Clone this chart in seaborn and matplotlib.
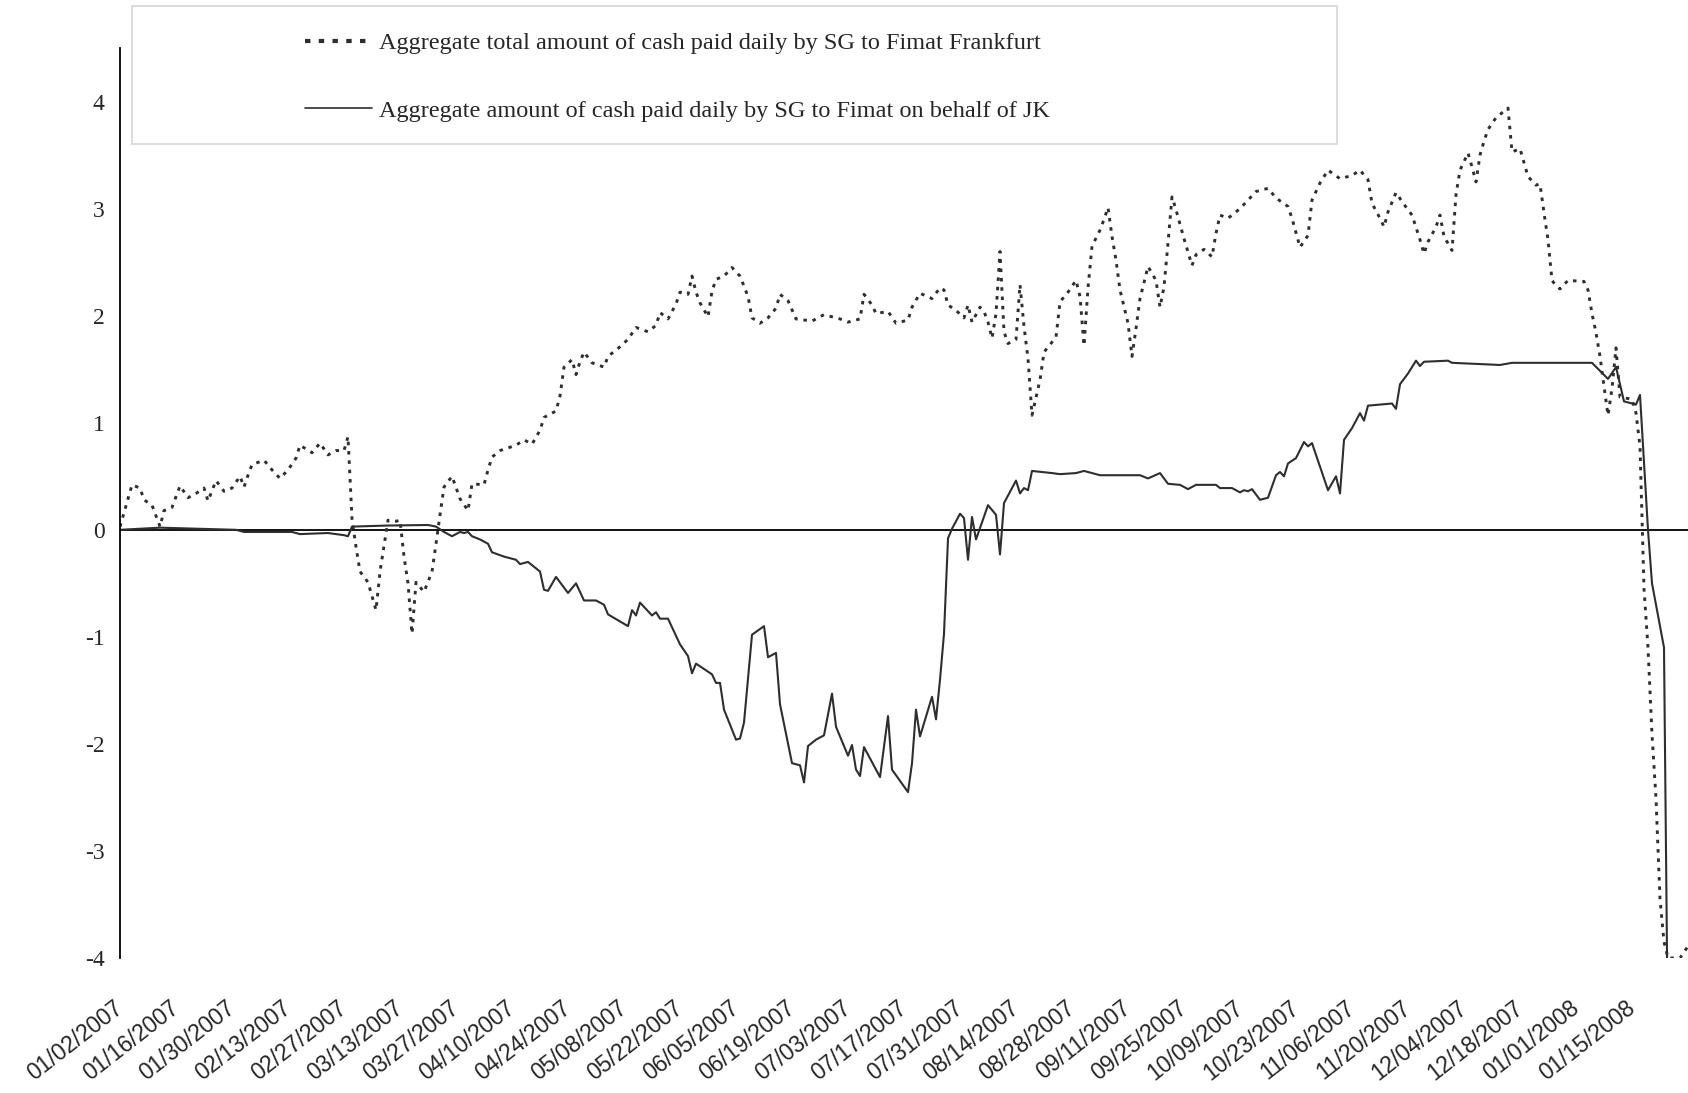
"""Daily cash paid by SG to Fimat: total vs. on behalf of JK (2007-2008)."""

from __future__ import annotations

import matplotlib

matplotlib.use("Agg")

import matplotlib.pyplot as plt
import pandas as pd
import seaborn as sns
from matplotlib.lines import Line2D
from matplotlib.patches import Rectangle

# --- data (values in EUR bn) ------------------------------------------------

TOTAL_LABEL = "Aggregate total amount of cash paid daily by SG to Fimat Frankfurt"
JK_LABEL = "Aggregate amount of cash paid daily by SG to Fimat on behalf of JK"

TOTAL_DATES = [
    "2007-01-02", "2007-01-03", "2007-01-04", "2007-01-05", "2007-01-07", "2007-01-08",
    "2007-01-10", "2007-01-12", "2007-01-13", "2007-01-15", "2007-01-16", "2007-01-17",
    "2007-01-19", "2007-01-21", "2007-01-23", "2007-01-24", "2007-01-26", "2007-01-28",
    "2007-01-30", "2007-02-01", "2007-02-02", "2007-02-03", "2007-02-04", "2007-02-07",
    "2007-02-09", "2007-02-11", "2007-02-13", "2007-02-15", "2007-02-16", "2007-02-19",
    "2007-02-21", "2007-02-23", "2007-02-25", "2007-02-27", "2007-02-28", "2007-03-01",
    "2007-03-02", "2007-03-03", "2007-03-05", "2007-03-07", "2007-03-08", "2007-03-10",
    "2007-03-12", "2007-03-13", "2007-03-14", "2007-03-15", "2007-03-16", "2007-03-17",
    "2007-03-19", "2007-03-21", "2007-03-22", "2007-03-23", "2007-03-24", "2007-03-26",
    "2007-03-28", "2007-03-30", "2007-03-31", "2007-04-03", "2007-04-04", "2007-04-05",
    "2007-04-07", "2007-04-11", "2007-04-13", "2007-04-15", "2007-04-17", "2007-04-18",
    "2007-04-20", "2007-04-21", "2007-04-22", "2007-04-23", "2007-04-25", "2007-04-26",
    "2007-04-27", "2007-04-28", "2007-04-30", "2007-05-03", "2007-05-04", "2007-05-07",
    "2007-05-09", "2007-05-11", "2007-05-14", "2007-05-16", "2007-05-17", "2007-05-19",
    "2007-05-21", "2007-05-22", "2007-05-24", "2007-05-25", "2007-05-26", "2007-05-27",
    "2007-05-29", "2007-05-30", "2007-05-31", "2007-06-02", "2007-06-04", "2007-06-06",
    "2007-06-08", "2007-06-09", "2007-06-11", "2007-06-13", "2007-06-15", "2007-06-16",
    "2007-06-18", "2007-06-20", "2007-06-24", "2007-06-27", "2007-07-01", "2007-07-03",
    "2007-07-06", "2007-07-07", "2007-07-09", "2007-07-10", "2007-07-13", "2007-07-15",
    "2007-07-18", "2007-07-19", "2007-07-21", "2007-07-24", "2007-07-26", "2007-07-27",
    "2007-07-28", "2007-07-30", "2007-08-01", "2007-08-02", "2007-08-03", "2007-08-05",
    "2007-08-06", "2007-08-07", "2007-08-08", "2007-08-09", "2007-08-10", "2007-08-11",
    "2007-08-12", "2007-08-14", "2007-08-15", "2007-08-16", "2007-08-17", "2007-08-18",
    "2007-08-20", "2007-08-21", "2007-08-24", "2007-08-25", "2007-08-27", "2007-08-29",
    "2007-08-30", "2007-08-31", "2007-09-01", "2007-09-02", "2007-09-04", "2007-09-05",
    "2007-09-06", "2007-09-07", "2007-09-08", "2007-09-09", "2007-09-11", "2007-09-12",
    "2007-09-13", "2007-09-14", "2007-09-16", "2007-09-18", "2007-09-19", "2007-09-20",
    "2007-09-21", "2007-09-22", "2007-09-23", "2007-09-25", "2007-09-27", "2007-09-28",
    "2007-09-30", "2007-10-02", "2007-10-03", "2007-10-04", "2007-10-06", "2007-10-09",
    "2007-10-13", "2007-10-16", "2007-10-18", "2007-10-21", "2007-10-22", "2007-10-24",
    "2007-10-26", "2007-10-27", "2007-10-29", "2007-10-31", "2007-11-03", "2007-11-06",
    "2007-11-08", "2007-11-10", "2007-11-11", "2007-11-13", "2007-11-14", "2007-11-15",
    "2007-11-17", "2007-11-19", "2007-11-21", "2007-11-23", "2007-11-24", "2007-11-25",
    "2007-11-27", "2007-11-28", "2007-11-29", "2007-12-01", "2007-12-02", "2007-12-03",
    "2007-12-05", "2007-12-06", "2007-12-07", "2007-12-08", "2007-12-09", "2007-12-10",
    "2007-12-12", "2007-12-14", "2007-12-15", "2007-12-16", "2007-12-18", "2007-12-20",
    "2007-12-22", "2007-12-23", "2007-12-24", "2007-12-25", "2007-12-26", "2007-12-27",
    "2007-12-28", "2007-12-30", "2008-01-03", "2008-01-04", "2008-01-05", "2008-01-06",
    "2008-01-07", "2008-01-08", "2008-01-09", "2008-01-10", "2008-01-11", "2008-01-12",
    "2008-01-15", "2008-01-16", "2008-01-17", "2008-01-18", "2008-01-19", "2008-01-20",
    "2008-01-21", "2008-01-22", "2008-01-23", "2008-01-24", "2008-01-27", "2008-01-29",
]
TOTAL_VALUES = [
    0.03, 0.16, 0.29, 0.42, 0.39, 0.28,
    0.23, 0.03, 0.18, 0.21, 0.31, 0.41,
    0.30, 0.34, 0.39, 0.27, 0.46, 0.36,
    0.39, 0.50, 0.40, 0.51, 0.61, 0.65,
    0.56, 0.48, 0.56, 0.67, 0.79, 0.72,
    0.81, 0.70, 0.74, 0.74, 0.87, 0.10,
    -0.16, -0.39, -0.49, -0.75, -0.39, 0.09,
    0.08, 0.09, -0.25, -0.50, -0.97, -0.49,
    -0.58, -0.39, -0.13, 0.14, 0.40, 0.50,
    0.29, 0.18, 0.43, 0.42, 0.56, 0.68,
    0.74, 0.79, 0.84, 0.80, 0.93, 1.05,
    1.09, 1.11, 1.25, 1.52, 1.59, 1.45,
    1.57, 1.66, 1.56, 1.52, 1.62, 1.71,
    1.78, 1.89, 1.85, 1.91, 2.03, 1.97,
    2.11, 2.22, 2.20, 2.37, 2.22, 2.12,
    1.99, 2.23, 2.34, 2.37, 2.45, 2.37,
    2.18, 1.98, 1.93, 1.98, 2.07, 2.20,
    2.14, 1.97, 1.95, 2.01, 1.97, 1.94,
    1.97, 2.20, 2.10, 2.02, 2.04, 1.93,
    1.96, 2.08, 2.21, 2.16, 2.26, 2.24,
    2.10, 2.05, 1.98, 2.10, 1.94, 2.08,
    2.04, 1.94, 1.79, 2.02, 2.60, 1.85,
    1.74, 1.78, 2.29, 1.90, 1.60, 1.07,
    1.40, 1.66, 1.80, 2.13, 2.22, 2.33,
    2.18, 1.72, 2.26, 2.65, 2.80, 2.90,
    3.01, 2.74, 2.52, 2.24, 1.93, 1.62,
    1.88, 2.16, 2.46, 2.33, 2.08, 2.27,
    2.68, 3.11, 2.99, 2.72, 2.47, 2.57,
    2.62, 2.55, 2.77, 2.94, 2.91, 3.00,
    3.16, 3.19, 3.10, 3.02, 2.91, 2.64,
    2.75, 3.08, 3.24, 3.36, 3.28, 3.31,
    3.36, 3.27, 3.05, 2.91, 2.83, 2.97,
    3.15, 3.04, 2.94, 2.71, 2.58, 2.69,
    2.83, 2.94, 2.74, 2.61, 3.13, 3.36,
    3.52, 3.39, 3.25, 3.50, 3.63, 3.74,
    3.85, 3.91, 3.94, 3.53, 3.56, 3.30,
    3.22, 3.23, 2.96, 2.71, 2.33, 2.28,
    2.25, 2.33, 2.32, 2.24, 2.02, 1.84,
    1.62, 1.34, 1.07, 1.32, 1.70, 1.24,
    1.22, 1.09, 0.78, -0.55, -1.10, -1.91,
    -2.51, -3.45, -3.85, -4.00, -4.00, -3.89,
]

JK_DATES = [
    "2007-01-02", "2007-01-12", "2007-01-31", "2007-02-02", "2007-02-14", "2007-02-16",
    "2007-02-23", "2007-02-27", "2007-02-28", "2007-03-01", "2007-03-10", "2007-03-20",
    "2007-03-22", "2007-03-24", "2007-03-26", "2007-03-28", "2007-03-29", "2007-03-30",
    "2007-03-31", "2007-04-02", "2007-04-04", "2007-04-05", "2007-04-08", "2007-04-11",
    "2007-04-12", "2007-04-14", "2007-04-17", "2007-04-18", "2007-04-19", "2007-04-21",
    "2007-04-24", "2007-04-26", "2007-04-28", "2007-05-01", "2007-05-03", "2007-05-04",
    "2007-05-09", "2007-05-10", "2007-05-11", "2007-05-12", "2007-05-15", "2007-05-16",
    "2007-05-17", "2007-05-19", "2007-05-22", "2007-05-24", "2007-05-25", "2007-05-26",
    "2007-05-30", "2007-05-31", "2007-06-01", "2007-06-02", "2007-06-05", "2007-06-06",
    "2007-06-07", "2007-06-09", "2007-06-12", "2007-06-13", "2007-06-15", "2007-06-16",
    "2007-06-19", "2007-06-21", "2007-06-22", "2007-06-23", "2007-06-25", "2007-06-27",
    "2007-06-29", "2007-06-30", "2007-07-03", "2007-07-04", "2007-07-05", "2007-07-06",
    "2007-07-07", "2007-07-11", "2007-07-13", "2007-07-14", "2007-07-18", "2007-07-19",
    "2007-07-20", "2007-07-21", "2007-07-24", "2007-07-25", "2007-07-26", "2007-07-27",
    "2007-07-28", "2007-07-29", "2007-07-31", "2007-08-01", "2007-08-02", "2007-08-03",
    "2007-08-04", "2007-08-07", "2007-08-09", "2007-08-10", "2007-08-11", "2007-08-14",
    "2007-08-15", "2007-08-16", "2007-08-17", "2007-08-18", "2007-08-23", "2007-08-25",
    "2007-08-29", "2007-08-31", "2007-09-04", "2007-09-14", "2007-09-16", "2007-09-19",
    "2007-09-21", "2007-09-24", "2007-09-26", "2007-09-28", "2007-10-03", "2007-10-04",
    "2007-10-07", "2007-10-09", "2007-10-10", "2007-10-11", "2007-10-12", "2007-10-14",
    "2007-10-16", "2007-10-18", "2007-10-19", "2007-10-20", "2007-10-21", "2007-10-23",
    "2007-10-25", "2007-10-26", "2007-10-27", "2007-10-31", "2007-11-02", "2007-11-03",
    "2007-11-04", "2007-11-06", "2007-11-08", "2007-11-09", "2007-11-10", "2007-11-16",
    "2007-11-17", "2007-11-18", "2007-11-20", "2007-11-22", "2007-11-23", "2007-11-24",
    "2007-11-30", "2007-12-01", "2007-12-13", "2007-12-16", "2008-01-05", "2008-01-09",
    "2008-01-11", "2008-01-13", "2008-01-16", "2008-01-17", "2008-01-19", "2008-01-20",
    "2008-01-23", "2008-01-24",
]
JK_VALUES = [
    0.00, 0.02, 0.00, -0.02, -0.02, -0.04,
    -0.03, -0.05, -0.06, 0.03, 0.04, 0.045,
    0.03, -0.02, -0.06, -0.02, -0.03, -0.02,
    -0.06, -0.09, -0.13, -0.21, -0.25, -0.28,
    -0.32, -0.30, -0.39, -0.56, -0.57, -0.44,
    -0.59, -0.50, -0.66, -0.66, -0.70, -0.79,
    -0.90, -0.75, -0.80, -0.68, -0.80, -0.77,
    -0.83, -0.83, -1.07, -1.18, -1.34, -1.25,
    -1.35, -1.43, -1.43, -1.68, -1.96, -1.95,
    -1.80, -0.98, -0.90, -1.19, -1.15, -1.63,
    -2.18, -2.20, -2.36, -2.02, -1.96, -1.92,
    -1.53, -1.84, -2.11, -2.01, -2.24, -2.30,
    -2.03, -2.31, -1.74, -2.24, -2.45, -2.18,
    -1.68, -1.93, -1.56, -1.77, -1.40, -0.97,
    -0.08, 0.01, 0.15, 0.11, -0.28, 0.12,
    -0.09, 0.23, 0.14, -0.23, 0.25, 0.46,
    0.34, 0.39, 0.37, 0.55, 0.53, 0.52,
    0.53, 0.55, 0.51, 0.51, 0.48, 0.53,
    0.43, 0.42, 0.38, 0.42, 0.42, 0.39,
    0.39, 0.35, 0.37, 0.36, 0.38, 0.28,
    0.30, 0.51, 0.54, 0.50, 0.62, 0.67,
    0.82, 0.78, 0.81, 0.37, 0.50, 0.34,
    0.84, 0.95, 1.09, 1.02, 1.16, 1.18,
    1.13, 1.36, 1.46, 1.58, 1.53, 1.57,
    1.58, 1.56, 1.54, 1.56, 1.56, 1.41,
    1.52, 1.20, 1.17, 1.26, 0.00, -0.50,
    -1.10, -4.90,
]

TICK_LABELS = [
    "01/02/2007", "01/16/2007", "01/30/2007", "02/13/2007", "02/27/2007",
    "03/13/2007", "03/27/2007", "04/10/2007", "04/24/2007", "05/08/2007",
    "05/22/2007", "06/05/2007", "06/19/2007", "07/03/2007", "07/17/2007",
    "07/31/2007", "08/14/2007", "08/28/2007", "09/11/2007", "09/25/2007",
    "10/09/2007", "10/23/2007", "11/06/2007", "11/20/2007", "12/04/2007",
    "12/18/2007", "01/01/2008", "01/15/2008",
]
Y_TICKS = [-4, -3, -2, -1, 0, 1, 2, 3, 4]

SERIF = ["Liberation Serif", "DejaVu Serif"]
SANS = ["Liberation Sans", "DejaVu Sans"]
LINE_COLOR = "#2e2e2e"
DOTS = (0, (1.2, 2.0))


def build_frame(dates: list[str], values: list[float]) -> pd.DataFrame:
    """Turn a date/value pair of lists into a plotting frame."""
    return pd.DataFrame({"date": pd.to_datetime(dates), "value": values})


def plot_cash(out_path: str) -> None:
    """Draw both cash series and save the figure."""
    fig = plt.figure(figsize=(16.88, 10.93), dpi=100)
    ax = fig.add_axes([0.0711, 0.1235, 0.9289, 0.8325])

    total = build_frame(TOTAL_DATES, TOTAL_VALUES)
    jk = build_frame(JK_DATES, JK_VALUES)

    sns.lineplot(data=total, x="date", y="value", ax=ax, estimator=None,
                 color=LINE_COLOR, linewidth=2.1, linestyle=DOTS)
    sns.lineplot(data=jk, x="date", y="value", ax=ax, estimator=None,
                 color=LINE_COLOR, linewidth=1.5)

    ax.axhline(0, color="black", linewidth=1.3, zorder=1)

    ax.set_xlim(pd.Timestamp("2007-01-02"), pd.Timestamp("2008-01-29"))
    ax.set_ylim(-4, 4.5)
    ax.set_yticks(Y_TICKS)
    ax.set_yticklabels([str(t) for t in Y_TICKS], fontfamily=SERIF, fontsize=17)

    ticks = pd.to_datetime(TICK_LABELS, format="%m/%d/%Y")
    ax.set_xticks(ticks)
    ax.set_xticklabels(TICK_LABELS, rotation=38, ha="right", va="center",
                       rotation_mode="anchor", fontfamily=SANS, fontsize=16.5)
    ax.tick_params(axis="x", length=0, pad=34)
    ax.tick_params(axis="y", direction="out", length=5, width=1.3, pad=6)

    ax.set_xlabel("")
    ax.set_ylabel("")
    for side in ("top", "right", "bottom"):
        ax.spines[side].set_visible(False)
    ax.spines["left"].set_linewidth(1.3)
    ax.spines["left"].set_color("black")

    # legend sits in a light grey box above the plot
    handles = [
        Line2D([], [], color=LINE_COLOR, linewidth=3.0, linestyle=(0, (1.3, 2.0))),
        Line2D([], [], color=LINE_COLOR, linewidth=1.2),
    ]
    fig.patches.append(Rectangle((0.0782, 0.868), 0.7139, 0.1263,
                                 transform=fig.transFigure, fill=False,
                                 edgecolor="#d6d6d6", linewidth=1.2))
    fig.legend(handles, [TOTAL_LABEL, JK_LABEL], loc="upper left",
               bbox_to_anchor=(0.1807, 0.9707), frameon=False, borderpad=0,
               borderaxespad=0, handlelength=2.75, handletextpad=0.29,
               labelspacing=1.89, prop={"family": SERIF, "size": 17.5})

    fig.savefig(out_path, dpi=100)
    plt.close(fig)


def main() -> None:
    sns.set_style("white")
    plt.rcParams["font.family"] = SERIF
    plot_cash("out.png")


if __name__ == "__main__":
    main()
